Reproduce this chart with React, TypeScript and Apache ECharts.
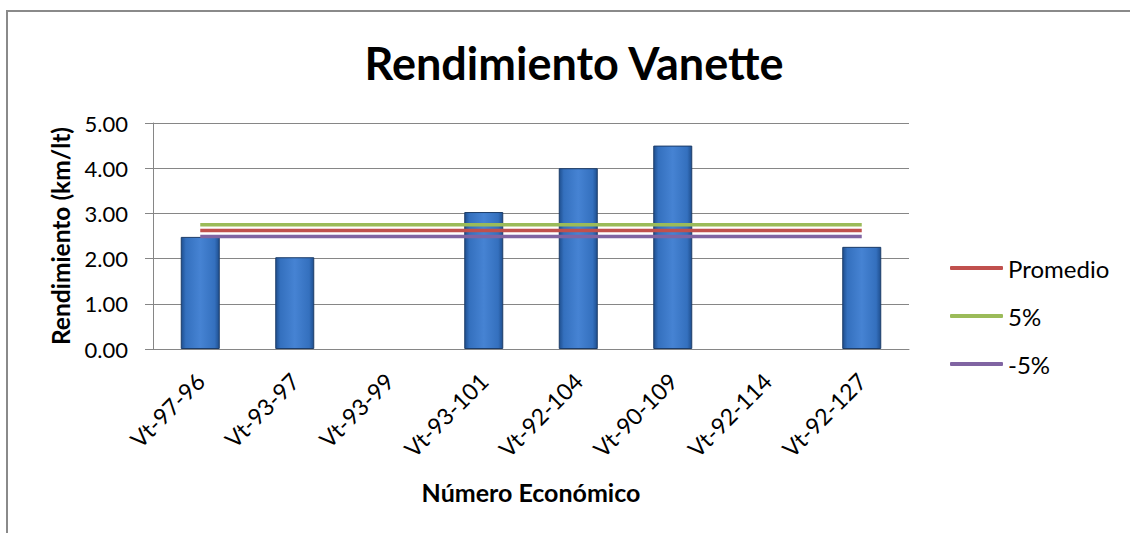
import React, { useEffect, useRef } from "react";
import * as echarts from "echarts";

const categories = ["Vt-97-96", "Vt-93-97", "Vt-93-99", "Vt-93-101", "Vt-92-104", "Vt-90-109", "Vt-92-114", "Vt-92-127"];
const rendimiento = [2.48, 2.03, null, 3.03, 4.0, 4.5, null, 2.26];
const promedio = [2.62, 2.62, 2.62, 2.62, 2.62, 2.62, 2.62, 2.62];
const mas5 = [2.75, 2.75, 2.75, 2.75, 2.75, 2.75, 2.75, 2.75];
const menos5 = [2.49, 2.49, 2.49, 2.49, 2.49, 2.49, 2.49, 2.49];
const yTicks = { min: 0, max: 5, interval: 1 };

const FONT = "Lato";

export default function App() {
  const ref = useRef<HTMLDivElement>(null);
  useEffect(() => {
    if (!ref.current) return;
    const chart = echarts.init(ref.current, null, { renderer: "svg" });
    chart.setOption({
      animation: false,
      backgroundColor: "#ffffff",
      textStyle: { fontFamily: FONT },
      graphic: [
        {
          type: "rect",
          shape: { x: 7, y: 11, width: 1300, height: 700 },
          style: { fill: "none", stroke: "#8a8a8a", lineWidth: 2 },
          silent: true,
        },
      ],
      title: {
        text: "Rendimiento Vanette",
        left: 569,
        textAlign: "center",
        top: 33,
        textStyle: { fontFamily: FONT, fontWeight: "bold", fontSize: 45, color: "#000", lineHeight: 50 },
      },
      legend: {
        orient: "vertical",
        left: 950,
        top: 254,
        padding: 0,
        icon: "roundRect",
        itemWidth: 53,
        itemHeight: 4,
        itemGap: 20,
        data: ["Promedio", "5%", "-5%"],
        textStyle: { fontFamily: FONT, fontSize: 24, color: "#000", lineHeight: 28, padding: [0, 0, 0, 0] },
      },
      grid: { left: 153, right: 221, top: 123, bottom: 184, containLabel: false },
      xAxis: {
        type: "category",
        data: categories,
        name: "Número Económico",
        nameLocation: "middle",
        nameGap: 130,
        nameTextStyle: { fontFamily: FONT, fontWeight: "bold", fontSize: 25, color: "#000" },
        axisLine: { lineStyle: { color: "#868686", width: 1 } },
        axisTick: { show: false },
        axisLabel: { rotate: 45, interval: 0, margin: 28, fontSize: 23, color: "#000", fontFamily: FONT },
      },
      yAxis: {
        type: "value",
        min: yTicks.min,
        max: yTicks.max,
        interval: yTicks.interval,
        name: "Rendimiento (km/lt)",
        nameLocation: "middle",
        nameRotate: 90,
        nameGap: 80,
        nameTextStyle: { fontFamily: FONT, fontWeight: "bold", fontSize: 24.5, color: "#000", padding: [0, 0, 0, 0] },
        axisLine: { show: true, lineStyle: { color: "#868686", width: 1 } },
        axisTick: { show: true, length: 8, lineStyle: { color: "#868686" } },
        splitLine: { lineStyle: { color: "#868686", width: 1 } },
        axisLabel: {
          fontSize: 22,
          color: "#000",
          fontFamily: FONT,
          margin: 25,
          formatter: (v: number) => v.toFixed(2),
        },
      },
      series: [
        {
          name: "Rendimiento",
          type: "bar",
          data: rendimiento,
          barWidth: 39,
          itemStyle: {
            color: new echarts.graphic.LinearGradient(0, 0, 1, 0, [
              { offset: 0, color: "#1f4f8f" },
              { offset: 0.12, color: "#3470be" },
              { offset: 0.5, color: "#4683d3" },
              { offset: 0.88, color: "#3470be" },
              { offset: 1, color: "#1f4f8f" },
            ]),
            borderColor: "#1c3c68",
            borderWidth: 1,
          },
        },
        {
          name: "Promedio",
          type: "line",
          data: promedio,
          symbol: "none",
          lineStyle: { color: "#C0504D", width: 3.5 },
          itemStyle: { color: "#C0504D" },
        },
        {
          name: "5%",
          type: "line",
          data: mas5,
          symbol: "none",
          lineStyle: { color: "#9BBB59", width: 3.5 },
          itemStyle: { color: "#9BBB59" },
        },
        {
          name: "-5%",
          type: "line",
          data: menos5,
          symbol: "none",
          lineStyle: { color: "#8064A2", width: 3.5 },
          itemStyle: { color: "#8064A2" },
        },
      ],
    });
    return () => chart.dispose();
  }, []);
  return <div ref={ref} style={{ position: "fixed", left: 0, top: 0, width: 1130, height: 533 }} />;
}
